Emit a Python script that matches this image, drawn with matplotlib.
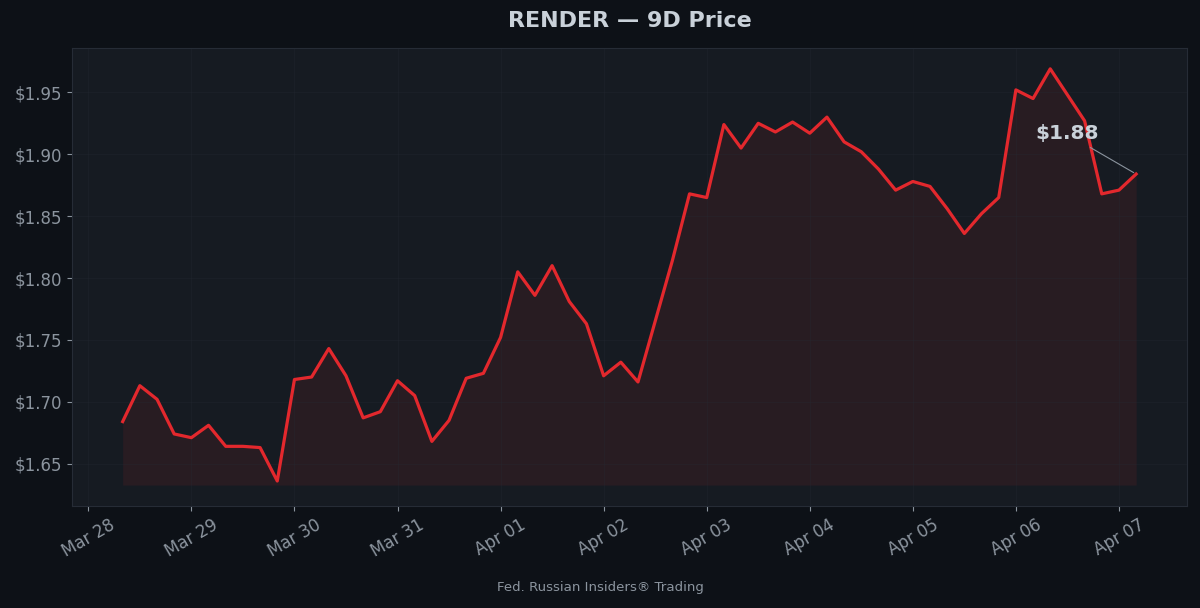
import matplotlib
matplotlib.use("Agg")
import matplotlib.pyplot as plt
import matplotlib.dates as mdates
import pandas as pd

# --- data (4h candles) ---
start = "2025-03-28 08:00"
prices = [
    1.684, 1.713, 1.702, 1.674, 1.671, 1.681, 1.664, 1.664, 1.663, 1.636,
    1.718, 1.720, 1.743, 1.721, 1.687, 1.692, 1.717, 1.705, 1.668, 1.685,
    1.719, 1.723, 1.752, 1.805, 1.786, 1.810, 1.781, 1.763, 1.721, 1.732,
    1.716, 1.765, 1.814, 1.868, 1.865, 1.924, 1.905, 1.925, 1.918, 1.926,
    1.917, 1.930, 1.910, 1.902, 1.888, 1.871, 1.878, 1.874, 1.856, 1.836,
    1.852, 1.865, 1.952, 1.945, 1.969, 1.948, 1.927, 1.868, 1.871, 1.884,
]
times = pd.date_range(start, periods=len(prices), freq="4h")
title = "RENDER \u2014 9D Price"
footer = "Fed. Russian Insiders\u00ae Trading"

# colours
BG = "#0d1117"
AX_BG = "#161b22"
RED = "#e3282d"
TXT = "#c9d1d9"
MUTED = "#8b949e"

fig = plt.figure(figsize=(12, 6.08), dpi=100, facecolor=BG)
ax = fig.add_axes([0.06, 0.168, 0.929, 0.753])
ax.set_facecolor(AX_BG)

ax.plot(times, prices, color=RED, lw=2.3, zorder=3)
ax.fill_between(times, prices, min(prices) * 0.998, color=RED, alpha=0.09, lw=0)

# last price label
last = prices[-1]
ax.annotate(f"${last:.2f}", xy=(times[-1], last), xytext=(-50, 29),
            textcoords="offset points", ha="center", va="center",
            fontsize=14.5, fontweight="bold", color=TXT,
            arrowprops=dict(arrowstyle="-", color=MUTED, lw=0.8))

ax.xaxis.set_major_locator(mdates.DayLocator())
ax.xaxis.set_major_formatter(mdates.DateFormatter("%b %d"))
ax.yaxis.set_major_formatter(plt.FuncFormatter(lambda v, p: f"${v:.2f}"))
plt.setp(ax.get_xticklabels(), rotation=30, ha="center")

ax.tick_params(colors=MUTED, labelsize=12)
for s in ax.spines.values():
    s.set_color("#262c36")
ax.grid(True, color="#252b34", lw=0.6, alpha=0.35)

ax.set_title(title, fontsize=16, fontweight="bold", color=TXT, pad=15.5)
fig.text(0.5, 0.034, footer, ha="center", va="center", fontsize=9.6, color=MUTED)

fig.savefig("out.png", facecolor=BG)
